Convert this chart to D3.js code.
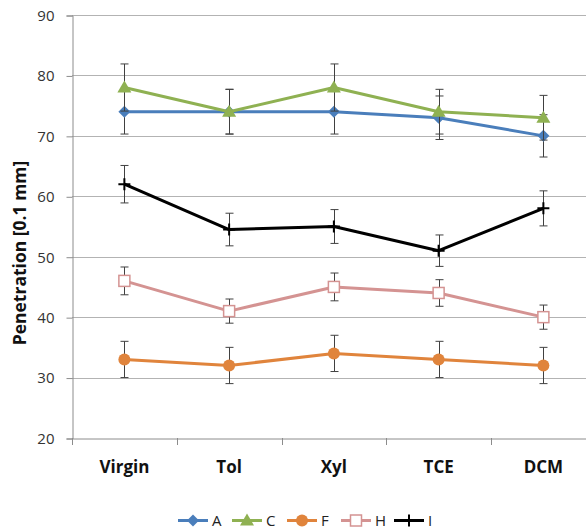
<!DOCTYPE html>
<html><head><meta charset="utf-8">
<script src="https://cdn.jsdelivr.net/npm/d3@7"></script>
<style>body{margin:0;background:#fff;}svg{display:block;}</style>
</head><body>
<svg id="chart" width="586" height="531"></svg>
<script>
const categories = ["Virgin", "Tol", "Xyl", "TCE", "DCM"];
const seriesNames = ["A", "C", "F", "H", "I"];
const valuesA = [74, 74, 74, 73, 70];
const valuesC = [78, 74, 78, 74, 73];
const valuesF = [33, 32, 34, 33, 32];
const valuesH = [46, 41, 45, 44, 40];
const valuesI = [62, 54.5, 55, 51, 58];
const errA = [3.7, 3.7, 3.7, 3.6, 3.5];
const errC = [3.9, 3.7, 3.9, 3.7, 3.7];
const errF = [3, 3, 3, 3, 3];
const errH = [2.3, 2, 2.3, 2.2, 2];
const errI = [3.1, 2.7, 2.8, 2.6, 2.9];
const yTicks = [20, 30, 40, 50, 60, 70, 80, 90];

(function () {
const series = [
  {name: "A", values: valuesA, err: errA, color: "#4A7EBB", marker: "diamond"},
  {name: "C", values: valuesC, err: errC, color: "#8FB152", marker: "triangle"},
  {name: "F", values: valuesF, err: errF, color: "#E0843C", marker: "circle"},
  {name: "H", values: valuesH, err: errH, color: "#D49392", marker: "square"},
  {name: "I", values: valuesI, err: errI, color: "#000000", marker: "plus"}
];

const svg = d3.select("#chart");
const pLeft = 72, pTop = 15, pBottom = 438, step = 104.75;
const x = d3.scaleBand().domain(categories).range([pLeft, pLeft + step * categories.length]).paddingInner(0).paddingOuter(0);
const y = d3.scaleLinear().domain([20, 90]).range([pBottom, pTop]);
const font = "'Open Sans', sans-serif";

// gridlines
svg.append("g").selectAll("line").data(yTicks.filter(t => t > 20)).join("line")
  .attr("x1", pLeft).attr("x2", 600)
  .attr("y1", d => Math.round(y(d)) + 0.5).attr("y2", d => Math.round(y(d)) + 0.5)
  .attr("stroke", "#b3b3b3").attr("stroke-width", 1);

// y axis
const yAxis = d3.axisLeft(y).tickValues(yTicks).tickSize(6).tickPadding(12);
const gy = svg.append("g").attr("transform", `translate(${pLeft + 0.5},0.5)`).call(yAxis);
gy.select(".domain").attr("stroke", "#8c8c8c");
gy.selectAll(".tick line").attr("stroke", "#8c8c8c");
gy.selectAll(".tick text").attr("font-family", font).attr("font-size", 15).attr("fill", "#333");

// x axis
const xAxis = d3.axisBottom(x).tickSize(0);
const gx = svg.append("g").attr("transform", `translate(0,${pBottom + 0.5})`).call(xAxis);
gx.select(".domain").attr("stroke", "#8c8c8c");
gx.selectAll(".tick text").attr("y", 34).attr("dy", null)
  .attr("font-family", font).attr("font-size", 17).attr("font-weight", "bold").attr("fill", "#111");
// category boundary ticks
svg.append("g").selectAll("line").data(categories).join("line")
  .attr("x1", d => Math.round(x(d)) + 0.5).attr("x2", d => Math.round(x(d)) + 0.5)
  .attr("y1", pBottom).attr("y2", pBottom + 7).attr("stroke", "#8c8c8c");

// y title
svg.append("text").attr("transform", `translate(26,253) rotate(-90)`)
  .attr("text-anchor", "middle").attr("font-family", font).attr("font-size", 17.5)
  .attr("font-weight", "bold").attr("fill", "#111").text("Penetration [0.1 mm]");

const cx = c => x(c) + x.bandwidth() / 2;

function drawMarker(g, type, color, px, py) {
  if (type === "diamond") {
    g.append("path").attr("d", `M${px},${py-6}L${px+6},${py}L${px},${py+6}L${px-6},${py}Z`).attr("fill", color);
  } else if (type === "triangle") {
    g.append("path").attr("d", `M${px},${py-7}L${px+7},${py+5}L${px-7},${py+5}Z`).attr("fill", color);
  } else if (type === "circle") {
    g.append("circle").attr("cx", px).attr("cy", py).attr("r", 6).attr("fill", color);
  } else if (type === "square") {
    g.append("rect").attr("x", px - 5.5).attr("y", py - 5.5).attr("width", 11).attr("height", 11)
      .attr("fill", "#fff").attr("stroke", color).attr("stroke-width", 1.5);
  } else if (type === "plus") {
    g.append("path").attr("d", `M${px-6},${py}H${px+6}M${px},${py-6}V${py+6}`).attr("stroke", color).attr("stroke-width", 2);
  }
}

const line = d3.line().x(d => cx(d.c)).y(d => y(d.v));
series.forEach(s => {
  const pts = categories.map((c, i) => ({c, v: s.values[i], e: s.err[i]}));
  const g = svg.append("g");
  pts.forEach(p => {
    const px = Math.round(cx(p.c)) + 0.5;
    const eg = g.append("g").attr("stroke", "#404040").attr("stroke-width", 1);
    eg.append("line").attr("x1", px).attr("x2", px).attr("y1", y(p.v + p.e)).attr("y2", y(p.v - p.e));
    eg.append("line").attr("x1", px - 4).attr("x2", px + 4).attr("y1", y(p.v + p.e)).attr("y2", y(p.v + p.e));
    eg.append("line").attr("x1", px - 4).attr("x2", px + 4).attr("y1", y(p.v - p.e)).attr("y2", y(p.v - p.e));
  });
  g.append("path").datum(pts).attr("d", line).attr("fill", "none").attr("stroke", s.color).attr("stroke-width", 3).attr("stroke-linejoin", "round");
  pts.forEach(p => drawMarker(g, s.marker, s.color, cx(p.c), y(p.v)));
});

// legend
const legendX = [178, 232, 287, 341, 394];
const ly = 520.5;
series.forEach((s, i) => {
  const g = svg.append("g");
  const x0 = legendX[i];
  g.append("line").attr("x1", x0).attr("x2", x0 + 30).attr("y1", ly).attr("y2", ly).attr("stroke", s.color).attr("stroke-width", 3);
  drawMarker(g, s.marker, s.color, x0 + 15, ly);
  g.append("text").attr("x", x0 + 34).attr("y", ly + 5.5).attr("font-family", font).attr("font-size", 15).attr("fill", "#222").text(s.name);
});
})();
</script>
</body></html>
